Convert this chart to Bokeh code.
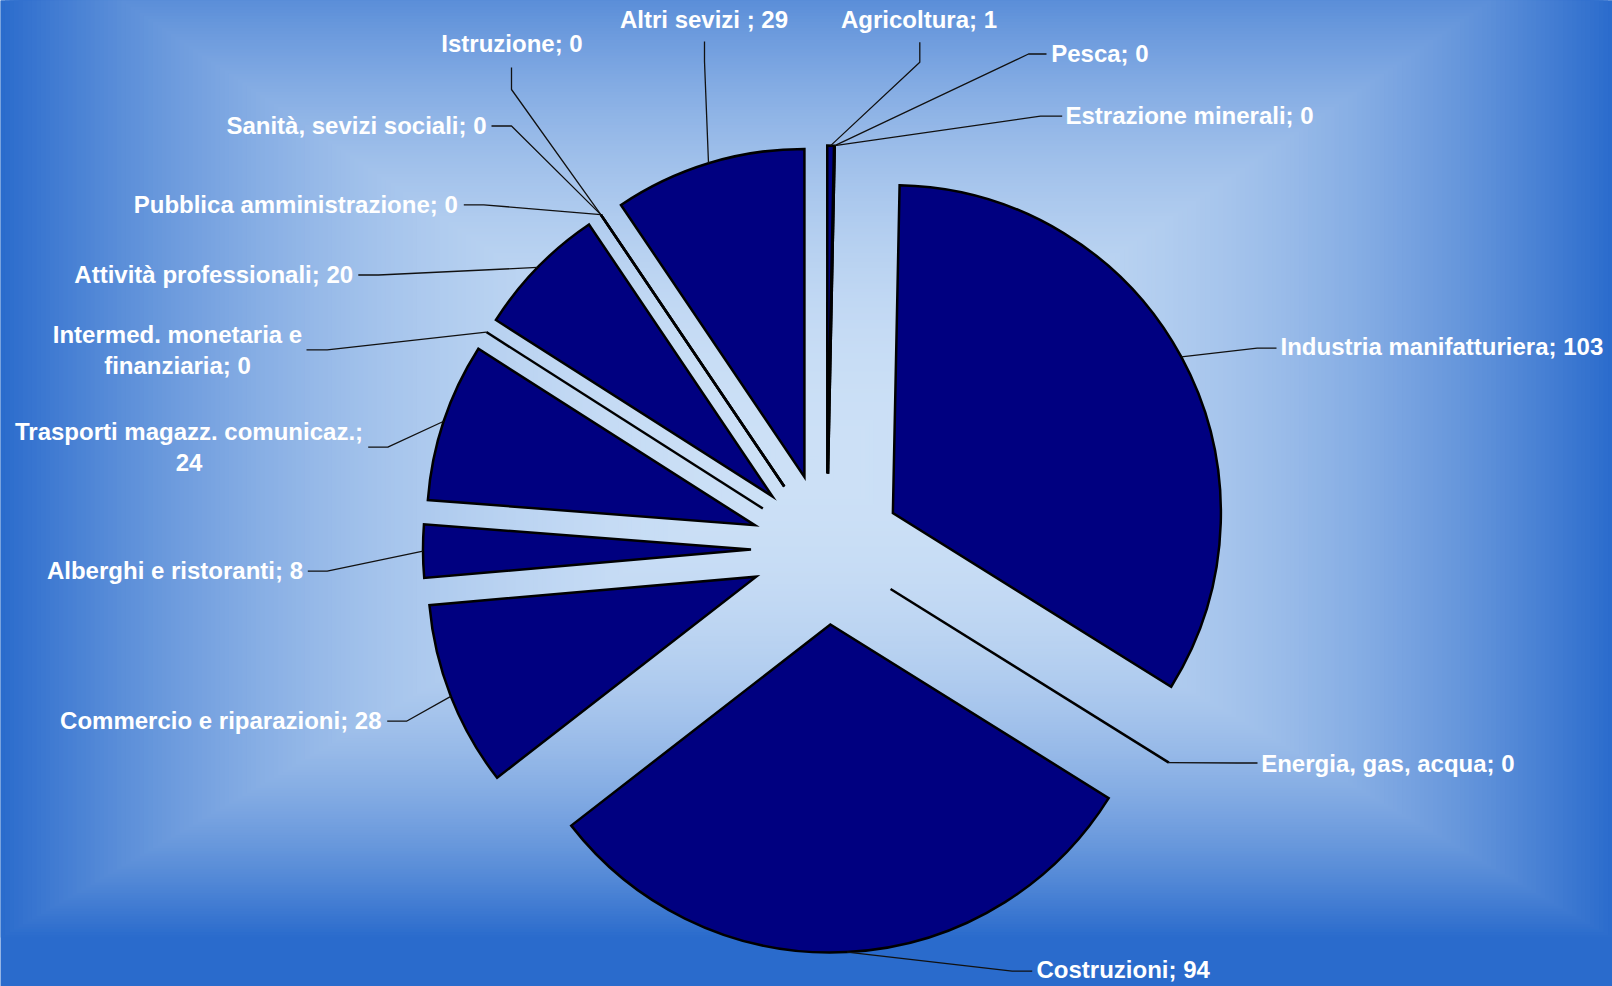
import numpy as np
from bokeh.plotting import figure
from bokeh.core.properties import value
from bokeh.embed import file_html
from bokeh.resources import INLINE

# ---------------- data ----------------
categories = ["Agricoltura", "Pesca", "Estrazione minerali", "Industria manifatturiera",
              "Energia, gas, acqua", "Costruzioni", "Commercio e riparazioni",
              "Alberghi e ristoranti", "Trasporti magazz. comunicaz.",
              "Intermed. monetaria e finanziaria", "Attività professionali",
              "Pubblica amministrazione", "Sanità, sevizi sociali", "Istruzione", "Altri sevizi "]
values_ = [1, 0, 0, 103, 0, 94, 28, 8, 24, 0, 20, 0, 0, 0, 29]
# where a label is wrapped onto two lines (text before the break)
wrap_after = {"Trasporti magazz. comunicaz.": "Trasporti magazz. comunicaz.;",
              "Intermed. monetaria e finanziaria": "Intermed. monetaria e"}

# ---------------- layout (reference pixel coords) ----------------
W, H, OFF = 1612, 986, 0
def X(px): return np.asarray(px, dtype=float) - OFF
def Y(py): return (H + OFF) - np.asarray(py, dtype=float)

PCX, PCY = 826.0, 548.6      # pie centre
RAD = 328.0                  # radius
EXPL = 75.5                  # explode distance

# label anchor (x, y of cap middle), alignment, leader elbow, stub end
label_layout = [
    ((918.5, 19.0), "center", (919.3, 61.7), (919.3, 41.7)),
    ((1050.7, 53.5), "left", (1028.0, 53.5), (1046.0, 53.5)),
    ((1065.0, 115.3), "left", (1040.0, 115.7), (1061.7, 115.7)),
    ((1280.0, 346.5), "left", (1256.7, 347.7), (1276.0, 347.7)),
    ((1260.7, 763.0), "left", (1237.0, 762.5), (1257.0, 762.5)),
    ((1036.0, 969.5), "left", (1011.7, 970.7), (1031.7, 970.7)),
    ((381.0, 720.5), "right", (406.0, 720.7), (386.7, 720.7)),
    ((302.5, 570.0), "right", (326.7, 570.7), (307.3, 570.7)),
    ((188.5, 446.5), "center", (387.3, 446.7), (367.7, 446.7)),
    ((177.0, 349.5), "center", (326.7, 349.3), (306.0, 349.3)),
    ((352.6, 274.5), "right", (378.0, 274.5), (357.8, 274.5)),
    ((457.3, 204.0), "right", (483.3, 204.3), (463.3, 204.3)),
    ((486.0, 125.5), "right", (511.0, 125.5), (491.0, 125.5)),
    ((511.5, 43.0), "center", (511.0, 89.0), (511.0, 67.0)),
    ((703.5, 19.0), "center", (704.0, 61.0), (704.0, 41.0)),
]
LINE_GAP = 31.0
FS = 24

# ---------------- figure ----------------
C0 = np.array([204, 224, 246], dtype=float)   # centre colour
C1 = np.array([42, 107, 204], dtype=float)    # edge colour
edge_hex = "#%02x%02x%02x" % tuple(int(v) for v in C1)

p = figure(width=W, height=H, x_range=(0, W), y_range=(0, H), output_backend="svg",
           toolbar_location=None, min_border=0, x_axis_location=None, y_axis_location=None)
p.grid.visible = False
p.outline_line_color = None
p.background_fill_color = edge_hex
p.border_fill_color = edge_hex

# rectangular gradient background (nested rectangles)
GX, GY, HW, HT, HB = 806.0, 465.0, 806.0, 547.0, 472.0
N = 180
ts = np.linspace(1.0, 0.0, N, endpoint=False)
tm = ts - 0.5 / N
cols = []
for t in tm:
    c = C0 + (C1 - C0) * (max(t, 0) ** 2.2)
    cols.append("#%02x%02x%02x" % tuple(int(round(v)) for v in c))
p.quad(left=X(GX - ts * HW), right=X(GX + ts * HW), top=Y(GY - ts * HT), bottom=Y(GY + ts * HB),
       fill_color=cols, line_color=None)

# ---------------- pie ----------------
vals = np.array(values_, dtype=float)
total = vals.sum()
cum = np.concatenate([[0], np.cumsum(vals)])
th0 = 360.0 * cum[:-1] / total
th1 = 360.0 * cum[1:] / total
thm = (th0 + th1) / 2

cx, cy = float(X(PCX)), float(Y(PCY))
def dirv(theta):
    r = np.radians(theta)
    return np.sin(r), np.cos(r)

nz = vals > 0
dx, dy = dirv(thm)
wx = cx + EXPL * dx
wy = cy + EXPL * dy
p.wedge(x=wx[nz], y=wy[nz], radius=RAD,
        start_angle=np.radians(90 - th1[nz]), end_angle=np.radians(90 - th0[nz]),
        direction="anticlock", fill_color="#000080", line_color="black", line_width=2.5,
        line_join="miter")

z = ~nz
zx, zy = dirv(th0[z])
p.segment(x0=cx + EXPL * zx, y0=cy + EXPL * zy, x1=cx + (EXPL + RAD) * zx, y1=cy + (EXPL + RAD) * zy,
          line_color="black", line_width=2.5)

# ---------------- leaders & labels ----------------
sx = cx + (EXPL + RAD) * dx
sy = cy + (EXPL + RAD) * dy
xs, ys = [], []
for i, (anc, al, elb, stub) in enumerate(label_layout):
    xs.append([sx[i], float(X(elb[0])), float(X(stub[0]))])
    ys.append([sy[i], float(Y(elb[1])), float(Y(stub[1]))])
p.multi_line(xs, ys, line_color="#111111", line_width=1.3)

txt_x, txt_y, txt, txt_al = [], [], [], []
base_shift = 0.358 * FS - 9.0
for i, (anc, al, elb, stub) in enumerate(label_layout):
    full = f"{categories[i]}; {values_[i]}"
    if categories[i] in wrap_after:
        first = wrap_after[categories[i]]
        lines = [first, full[len(first):].strip()]
    else:
        lines = [full]
    n = len(lines)
    for k, ln in enumerate(lines):
        mid = anc[1] + (k - (n - 1) / 2) * LINE_GAP
        txt_x.append(float(X(anc[0])))
        txt_y.append(float(Y(mid + base_shift)))
        txt.append(ln)
        txt_al.append(al)

for al in ("left", "right", "center"):
    idx = [j for j, a in enumerate(txt_al) if a == al]
    p.text(x=[txt_x[j] for j in idx], y=[txt_y[j] for j in idx], text=[txt[j] for j in idx],
           text_align=al, text_baseline="alphabetic", text_color="white",
           text_font=value("Liberation Sans"), text_font_style="bold", text_font_size=f"{FS}px")

open("out.html", "w").write(file_html(p, INLINE))
